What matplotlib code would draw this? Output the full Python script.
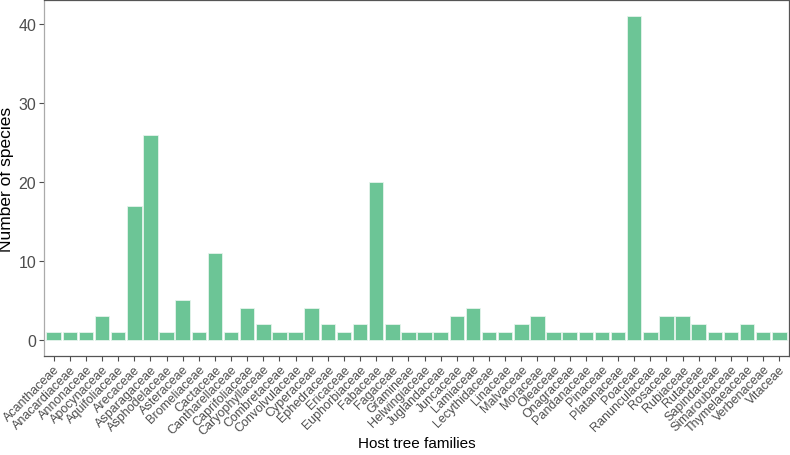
import numpy as np
from matplotlib import pyplot as plt

plt.rcParams['font.family'] = ['Liberation Sans', 'DejaVu Sans']

families = ["Acanthaceae", "Anacardiaceae", "Annonaceae", "Apocynaceae", "Aquifoliaceae",
            "Arecaceae", "Asparagaceae", "Asphodelaceae", "Asteraceae", "Bromeliaceae",
            "Cactaceae", "Cantharellaceae", "Caprifoliaceae", "Caryophyllaceae", "Combretaceae",
            "Convolvulaceae", "Cyperaceae", "Ephedraceae", "Ericaceae", "Euphorbiaceae",
            "Fabaceae", "Fagaceae", "Gramineae", "Helwingiaceae", "Juglandaceae",
            "Juncaceae", "Lamiaceae", "Lecythidaceae", "Linaceae", "Malvaceae",
            "Moraceae", "Oleaceae", "Onagraceae", "Pandanaceae", "Pinaceae",
            "Platanaceae", "Poaceae", "Ranunculaceae", "Rosaceae", "Rubiaceae",
            "Rutaceae", "Sapindaceae", "Simaroubaceae", "Thymelaeaceae", "Verbenaceae",
            "Vitaceae"]
species = [1, 1, 1, 3, 1,
           17, 26, 1, 5, 1,
           11, 1, 4, 2, 1,
           1, 4, 2, 1, 2,
           20, 2, 1, 1, 1,
           3, 4, 1, 1, 2,
           3, 1, 1, 1, 1,
           1, 41, 1, 3, 3,
           2, 1, 1, 2, 1,
           1]
y_ticks = [0, 10, 20, 30, 40]

fig = plt.figure(figsize=(7.9, 4.56), dpi=100)
ax = fig.add_axes([44 / 790, 1 - 357 / 456, 745 / 790, 356 / 456])

x = np.arange(len(families))
ax.bar(x, species, width=0.9, color="#6cc596", edgecolor="#e6f4ec", linewidth=0.6)

ymax = max(species)
ax.set_ylim(-0.05 * ymax, 1.05 * ymax)
ax.set_xlim(-0.6, len(families) - 0.4)

ax.set_yticks(y_ticks)
ax.set_xticks(x)
ax.set_xticklabels(families, rotation=45, ha="right", va="top",
                   rotation_mode="anchor", fontsize=9, color="#4d4d4d")
ax.tick_params(axis="y", labelsize=11.5, labelcolor="#4d4d4d", color="#4d4d4d",
               length=3.5, width=0.8, pad=2)
ax.tick_params(axis="x", color="#4d4d4d", length=3.5, width=0.8, pad=1.5)

for side in ["top", "right", "bottom"]:
    ax.spines[side].set_color("#555555")
    ax.spines[side].set_linewidth(0.9)
ax.spines["left"].set_color("#aaaaaa")
ax.spines["left"].set_linewidth(0.9)

ax.set_ylabel("Number of species", fontsize=12.5)
ax.yaxis.set_label_coords(-0.040, 0.5)
ax.set_xlabel("Host tree families", fontsize=11)
ax.xaxis.set_label_coords(0.5, -0.225)

fig.savefig("out.png", dpi=100)
